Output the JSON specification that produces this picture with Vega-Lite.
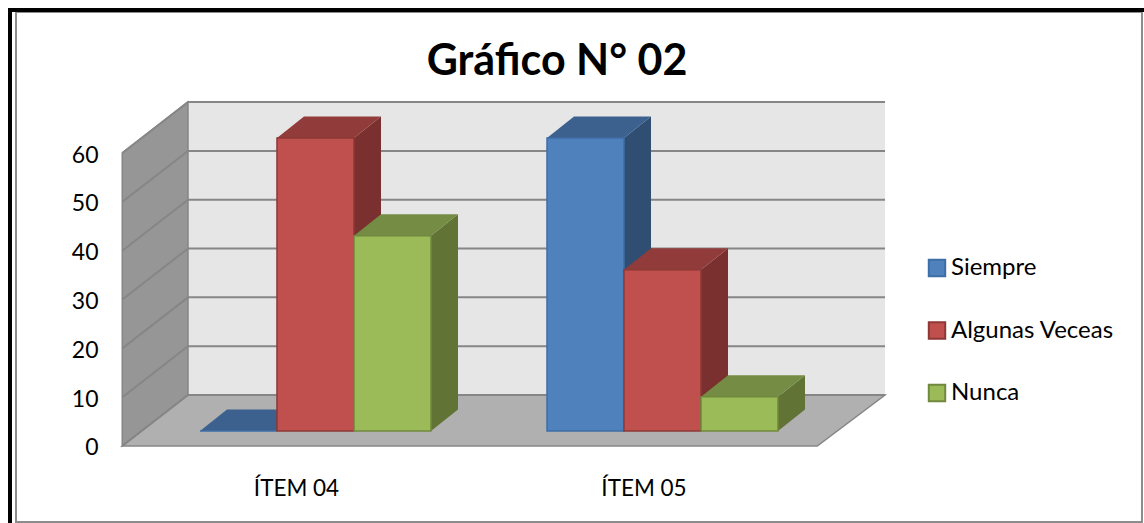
{
"$schema":"https://vega.github.io/schema/vega-lite/v6.json",
"width":1144,"height":523,"padding":0,"autosize":{"type":"none"},"background":"white",
"title":{"text":"Gráfico N° 02","font":"Lato","fontSize":43,"fontWeight":"bold","color":"#000000","anchor":"middle","dx":-15,"offset":-84},
"datasets":{
"grid":[
{"v":0,"x":0.5,"y":0},{"v":0,"x":0.6892,"y":10.44},{"v":0,"x":2.695,"y":10.44},
{"v":10,"x":0.5,"y":10},{"v":10,"x":0.6892,"y":20.44},{"v":10,"x":2.695,"y":20.44},
{"v":20,"x":0.5,"y":20},{"v":20,"x":0.6892,"y":30.44},{"v":20,"x":2.695,"y":30.44},
{"v":30,"x":0.5,"y":30},{"v":30,"x":0.6892,"y":40.44},{"v":30,"x":2.695,"y":40.44},
{"v":40,"x":0.5,"y":40},{"v":40,"x":0.6892,"y":50.44},{"v":40,"x":2.695,"y":50.44},
{"v":50,"x":0.5,"y":50},{"v":50,"x":0.6892,"y":60.44},{"v":50,"x":2.695,"y":60.44},
{"v":60,"x":0.5,"y":60},{"v":60,"x":0.6892,"y":70.44},{"v":60,"x":2.695,"y":70.44}
],
"side":[
{"item":"ÍTEM 04","tono":"Algunas Veceas lateral","x":1.1669,"y":60,"y2":0},{"item":"ÍTEM 04","tono":"Algunas Veceas lateral","x":1.2446,"y":64.4,"y2":4.4},
{"item":"ÍTEM 04","tono":"Nunca lateral","x":1.3885,"y":40,"y2":0},{"item":"ÍTEM 04","tono":"Nunca lateral","x":1.4662,"y":44.4,"y2":4.4},
{"item":"ÍTEM 05","tono":"Siempre lateral","x":1.9439,"y":60,"y2":0},{"item":"ÍTEM 05","tono":"Siempre lateral","x":2.0216,"y":64.4,"y2":4.4},
{"item":"ÍTEM 05","tono":"Algunas Veceas lateral","x":2.1655,"y":33,"y2":0},{"item":"ÍTEM 05","tono":"Algunas Veceas lateral","x":2.2432,"y":37.4,"y2":4.4},
{"item":"ÍTEM 05","tono":"Nunca lateral","x":2.3871,"y":7,"y2":0},{"item":"ÍTEM 05","tono":"Nunca lateral","x":2.4648,"y":11.4,"y2":4.4}
],
"top":[
{"item":"ÍTEM 04","tono":"Siempre superior","x":0.7237,"y":0,"y2":0},{"item":"ÍTEM 04","tono":"Siempre superior","x":0.8014,"y":4.4,"y2":0},{"item":"ÍTEM 04","tono":"Siempre superior","x":0.9453,"y":4.4,"y2":0},{"item":"ÍTEM 04","tono":"Siempre superior","x":1.023,"y":4.4,"y2":4.4},
{"item":"ÍTEM 04","tono":"Algunas Veceas superior","x":0.9453,"y":60,"y2":60},{"item":"ÍTEM 04","tono":"Algunas Veceas superior","x":1.023,"y":64.4,"y2":60},{"item":"ÍTEM 04","tono":"Algunas Veceas superior","x":1.1669,"y":64.4,"y2":60},{"item":"ÍTEM 04","tono":"Algunas Veceas superior","x":1.2446,"y":64.4,"y2":64.4},
{"item":"ÍTEM 04","tono":"Nunca superior","x":1.1669,"y":40,"y2":40},{"item":"ÍTEM 04","tono":"Nunca superior","x":1.2446,"y":44.4,"y2":40},{"item":"ÍTEM 04","tono":"Nunca superior","x":1.3885,"y":44.4,"y2":40},{"item":"ÍTEM 04","tono":"Nunca superior","x":1.4662,"y":44.4,"y2":44.4},
{"item":"ÍTEM 05","tono":"Siempre superior","x":1.7223,"y":60,"y2":60},{"item":"ÍTEM 05","tono":"Siempre superior","x":1.8,"y":64.4,"y2":60},{"item":"ÍTEM 05","tono":"Siempre superior","x":1.9439,"y":64.4,"y2":60},{"item":"ÍTEM 05","tono":"Siempre superior","x":2.0216,"y":64.4,"y2":64.4},
{"item":"ÍTEM 05","tono":"Algunas Veceas superior","x":1.9439,"y":33,"y2":33},{"item":"ÍTEM 05","tono":"Algunas Veceas superior","x":2.0216,"y":37.4,"y2":33},{"item":"ÍTEM 05","tono":"Algunas Veceas superior","x":2.1655,"y":37.4,"y2":33},{"item":"ÍTEM 05","tono":"Algunas Veceas superior","x":2.2432,"y":37.4,"y2":37.4},
{"item":"ÍTEM 05","tono":"Nunca superior","x":2.1655,"y":7,"y2":7},{"item":"ÍTEM 05","tono":"Nunca superior","x":2.2432,"y":11.4,"y2":7},{"item":"ÍTEM 05","tono":"Nunca superior","x":2.3871,"y":11.4,"y2":7},{"item":"ÍTEM 05","tono":"Nunca superior","x":2.4648,"y":11.4,"y2":11.4}
],
"bars":[
{"item":"ÍTEM 04","tono":"Siempre","x":0.7237,"x2":0.9453,"valor":0},
{"item":"ÍTEM 04","tono":"Algunas Veceas","x":0.9453,"x2":1.1669,"valor":60},
{"item":"ÍTEM 04","tono":"Nunca","x":1.1669,"x2":1.3885,"valor":40},
{"item":"ÍTEM 05","tono":"Siempre","x":1.7223,"x2":1.9439,"valor":60},
{"item":"ÍTEM 05","tono":"Algunas Veceas","x":1.9439,"x2":2.1655,"valor":33},
{"item":"ÍTEM 05","tono":"Nunca","x":2.1655,"x2":2.3871,"valor":7}
]
},
"encoding":{"x":{"field":"x","type":"quantitative","scale":{"domain":[0.1482,3.4403],"nice":false,"zero":false},
"axis":{"title":null,"values":[1,2],"labelExpr":"datum.value==1?'ÍTEM 04':'ÍTEM 05'","grid":false,"domain":false,"ticks":false,"orient":"bottom","offset":-46,"labelPadding":0,"labelFont":"Lato","labelFontSize":22.5,"labelColor":"#000000","labelBaseline":"top","zindex":1}}},
"layer":[
{"encoding":{"y":{"field":"y","type":"quantitative","scale":{"domain":[-15.77,91.34],"nice":false,"zero":false},
"axis":{"title":null,"values":[0,10,20,30,40,50,60],"grid":false,"domain":false,"ticks":false,"offset":-98,"labelPadding":0,"labelFont":"Lato","labelFontSize":23,"labelColor":"#000000","labelOffset":2,"zindex":1}}},
"layer":[
{"data":{"values":[{"x":0.1942,"x2":3.4345,"y":88.88,"y2":-15.56}]},"mark":{"type":"rect","fill":"white","stroke":"#8c8c8c","strokeWidth":2},"encoding":{"x2":{"field":"x2"},"y2":{"field":"y2"}}},
{"data":{"values":[{"o":1,"x":0.177,"y":-15.77},{"o":2,"x":0.177,"y":89.29},{"o":3,"x":3.4403,"y":89.29}]},"mark":{"type":"line","color":"#000000","strokeWidth":4,"clip":false},"encoding":{"order":{"field":"o"}}},
{"data":{"values":[{"x":0.6892,"y":70.44,"y2":10.44},{"x":2.695,"y":70.44,"y2":10.44}]},"mark":{"type":"area","fill":"#e6e6e6"},"encoding":{"y2":{"field":"y2"}}},
{"data":{"values":[{"x":0.5,"y":60,"y2":0},{"x":0.6892,"y":70.44,"y2":10.44}]},"mark":{"type":"area","fill":"#969696","stroke":"#868686","strokeWidth":1.5},"encoding":{"y2":{"field":"y2"}}},
{"data":{"values":[{"x":0.5,"y":0,"y2":0},{"x":0.6892,"y":10.44,"y2":0},{"x":2.5,"y":10.44,"y2":0},{"x":2.695,"y":10.44,"y2":10.44}]},"mark":{"type":"area","fill":"#b0b0b0","stroke":"#868686","strokeWidth":1.5},"encoding":{"y2":{"field":"y2"}}},
{"data":{"name":"grid"},"mark":{"type":"line","color":"#868686","strokeWidth":2},"encoding":{"detail":{"field":"v"}}}
]},
{"encoding":{"y":{"field":"y","type":"quantitative","scale":{"domain":[-18.84,88.26],"nice":false,"zero":false},"axis":null}},
"layer":[
{"data":{"name":"side"},"mark":{"type":"area"},"encoding":{"y2":{"field":"y2"},"color":{"field":"tono","type":"nominal"},"detail":{"field":"item"}}},
{"data":{"name":"top"},"mark":{"type":"area"},"encoding":{"y2":{"field":"y2"},"color":{"field":"tono","type":"nominal"},"detail":{"field":"item"}}},
{"data":{"name":"bars"},"mark":{"type":"rect","strokeWidth":1.5},"encoding":{
"x2":{"field":"x2"},
"y":{"field":"valor","type":"quantitative","scale":{"domain":[-18.84,88.26],"nice":false,"zero":false},"axis":null},
"y2":{"datum":0},
"color":{"field":"tono","type":"nominal",
"scale":{"domain":["Siempre","Algunas Veceas","Nunca","Siempre superior","Algunas Veceas superior","Nunca superior","Siempre lateral","Algunas Veceas lateral","Nunca lateral"],
"range":["#4f81bd","#c0504d","#9bbb59","#3c618e","#913c3a","#748c43","#2f4e72","#7a302e","#627336"]},
"legend":{"title":null,"values":["Siempre","Algunas Veceas","Nunca"],"orient":"none","legendX":925,"legendY":256,"symbolType":"square","symbolSize":270,"symbolStrokeWidth":2,"labelFont":"Lato","labelFontSize":24,"labelColor":"#000000","rowPadding":36.5,"labelOffset":2,"labelLimit":220,"encode":{"symbols":{"update":{"stroke":{"scale":"stroke","field":"value"},"fill":{"scale":"color","field":"value"},"opacity":{"value":1}}}}}},
"stroke":{"field":"tono","type":"nominal","scale":{"domain":["Siempre","Algunas Veceas","Nunca"],"range":["#3f6ea6","#8c3836","#71893f"]},"legend":null}
}}
]}
],
"resolve":{"scale":{"y":"independent"}},
"config":{"view":{"stroke":null}}
}
